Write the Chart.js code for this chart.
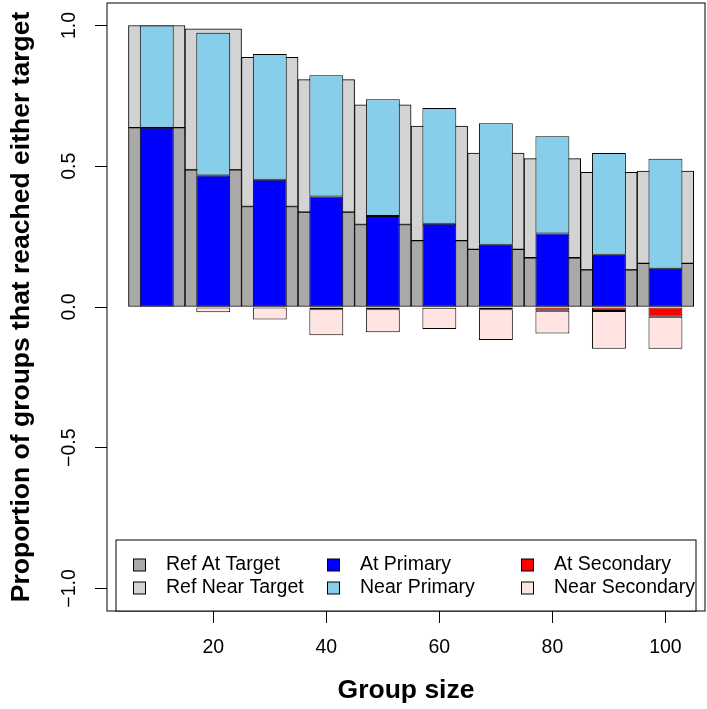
<!DOCTYPE html>
<html>
<head>
<meta charset="utf-8">
<script src="https://cdn.jsdelivr.net/npm/chart.js@4"></script>
<style>
  body { margin: 0; background: #fff; }
</style>
</head>
<body>
<canvas id="myChart" width="707" height="709"></canvas>
<script>
const groupSizes = [10, 20, 30, 40, 50, 60, 70, 80, 90, 100];
const refAtTarget = [0.637, 0.487, 0.357, 0.337, 0.293, 0.236, 0.205, 0.175, 0.132, 0.155];
const refNearTarget = [0.363, 0.501, 0.530, 0.471, 0.425, 0.407, 0.342, 0.352, 0.346, 0.328];
const atPrimary = [0.637, 0.467, 0.452, 0.393, 0.323, 0.296, 0.221, 0.261, 0.186, 0.136];
const nearPrimary = [0.363, 0.507, 0.447, 0.430, 0.415, 0.411, 0.432, 0.346, 0.361, 0.391];
const atSecondary = [0, 0, 0, 0.008, 0.008, 0.003, 0.008, 0.013, 0.014, 0.035];
const nearSecondary = [0, 0.019, 0.044, 0.092, 0.082, 0.075, 0.109, 0.081, 0.134, 0.113];
const xTicks = [20, 40, 60, 80, 100];
const yTicks = [-1, -0.5, 0, 0.5, 1];

// floating bars: [start, end]
const fromZero = vals => vals.map(v => [0, v]);
const onTop = (base, vals) => vals.map((v, i) => [base[i], base[i] + v]);
const belowZero = vals => vals.map(v => [-v, 0]);
const below = (base, vals) => vals.map((v, i) => [-(base[i] + v), -base[i]]);

Chart.defaults.font.family = "'Liberation Sans', Arial, sans-serif";
Chart.defaults.color = '#000';

const boxPlugin = {
    id: 'box',
    afterDraw(chart) {
        const {ctx, chartArea: a} = chart;
        ctx.save();
        ctx.strokeStyle = '#000';
        ctx.lineWidth = 1;
        ctx.strokeRect(a.left, a.top, a.right - a.left, a.bottom - a.top);

        // legend, 3 columns x 2 rows, like R's legend(ncol = 3)
        const w = 580, h = 71;
        const lx = (a.left + a.right) / 2 - w / 2;
        const ly = a.bottom - h;
        ctx.fillStyle = '#fff';
        ctx.fillRect(lx, ly, w, h);
        ctx.strokeRect(lx, ly, w, h);
        ctx.font = "19.5px 'Liberation Sans', Arial, sans-serif";
        ctx.textBaseline = 'middle';
        chart.data.datasets.forEach((ds, i) => {
            const col = Math.floor(i / 2), row = i % 2;
            const sx = lx + 17.5 + col * 194;
            const sy = ly + 25 + row * 23;
            ctx.fillStyle = ds.backgroundColor;
            ctx.fillRect(sx, sy - 6, 12, 12);
            ctx.strokeRect(sx, sy - 6, 12, 12);
            ctx.fillStyle = '#000';
            ctx.fillText(ds.label, sx + 32.5, sy);
        });
        ctx.restore();
    }
};

const barStyle = {
    borderColor: '#000',
    borderWidth: 1,
    borderSkipped: false,
    grouped: false,
    categoryPercentage: 1,
};

const ctx = document.getElementById('myChart');

new Chart(ctx, {
type: 'bar',
data: {
    labels: groupSizes,
    datasets: [
        { ...barStyle, label: 'Ref At Target', data: fromZero(refAtTarget), backgroundColor: '#A9A9A9', barPercentage: 1, order: 3 },
        { ...barStyle, label: 'Ref Near Target', data: onTop(refAtTarget, refNearTarget), backgroundColor: '#D3D3D3', barPercentage: 1, order: 3 },
        { ...barStyle, label: 'At Primary', data: fromZero(atPrimary), backgroundColor: '#0000FF', barPercentage: 0.6, order: 2 },
        { ...barStyle, label: 'Near Primary', data: onTop(atPrimary, nearPrimary), backgroundColor: '#87CEEB', barPercentage: 0.6, order: 2 },
        { ...barStyle, label: 'At Secondary', data: belowZero(atSecondary), backgroundColor: '#FF0000', barPercentage: 0.6, order: 1 },
        { ...barStyle, label: 'Near Secondary', data: below(atSecondary, nearSecondary), backgroundColor: '#FFE4E1', barPercentage: 0.6, order: 1 },
    ]
},
options: {
    responsive: false,
    animation: false,
    layout: { padding: { left: 0, right: 2, top: 3, bottom: 0 } },
    scales: {
        x: {
            type: 'linear',
            min: 1.2,
            max: 107,
            offset: false,
            afterBuildTicks: scale => { scale.ticks = xTicks.map(v => ({ value: v })); },
            afterFit: scale => {
                scale.height = 98;
                scale.paddingLeft = 0;
                scale.paddingRight = 0;
            },
            grid: { offset: false, drawOnChartArea: false, tickLength: 12, color: '#000' },
            border: { display: false },
            ticks: { autoSkip: false, maxRotation: 0, padding: 13, font: { size: 19.5 } },
            title: { display: true, text: 'Group size', font: { size: 26.5, weight: 'bold' }, padding: { top: 0, bottom: 2 } }
        },
        y: {
            min: -1.08,
            max: 1.08,
            afterBuildTicks: scale => { scale.ticks = yTicks.map(v => ({ value: v })); },
            afterFit: scale => {
                scale.width = 107;
                scale.paddingTop = 0;
                scale.paddingBottom = 0;
            },
            grid: { drawOnChartArea: false, tickLength: 12, color: '#000' },
            border: { display: false },
            ticks: {
                minRotation: 90,
                maxRotation: 90,
                crossAlign: 'center',
                padding: 6,
                font: { size: 19.5 },
                callback: v => (v < 0 ? '\u2212' : '') + Math.abs(v).toFixed(1)
            },
            title: { display: true, text: 'Proportion of groups that reached either target', font: { size: 26.5, weight: 'bold' }, padding: { top: 6, bottom: 0 } }
        }
    },
    plugins: {
        legend: { display: false },
        tooltip: { enabled: false }
    }
},
plugins: [boxPlugin]
});
</script>
</body>
</html>
